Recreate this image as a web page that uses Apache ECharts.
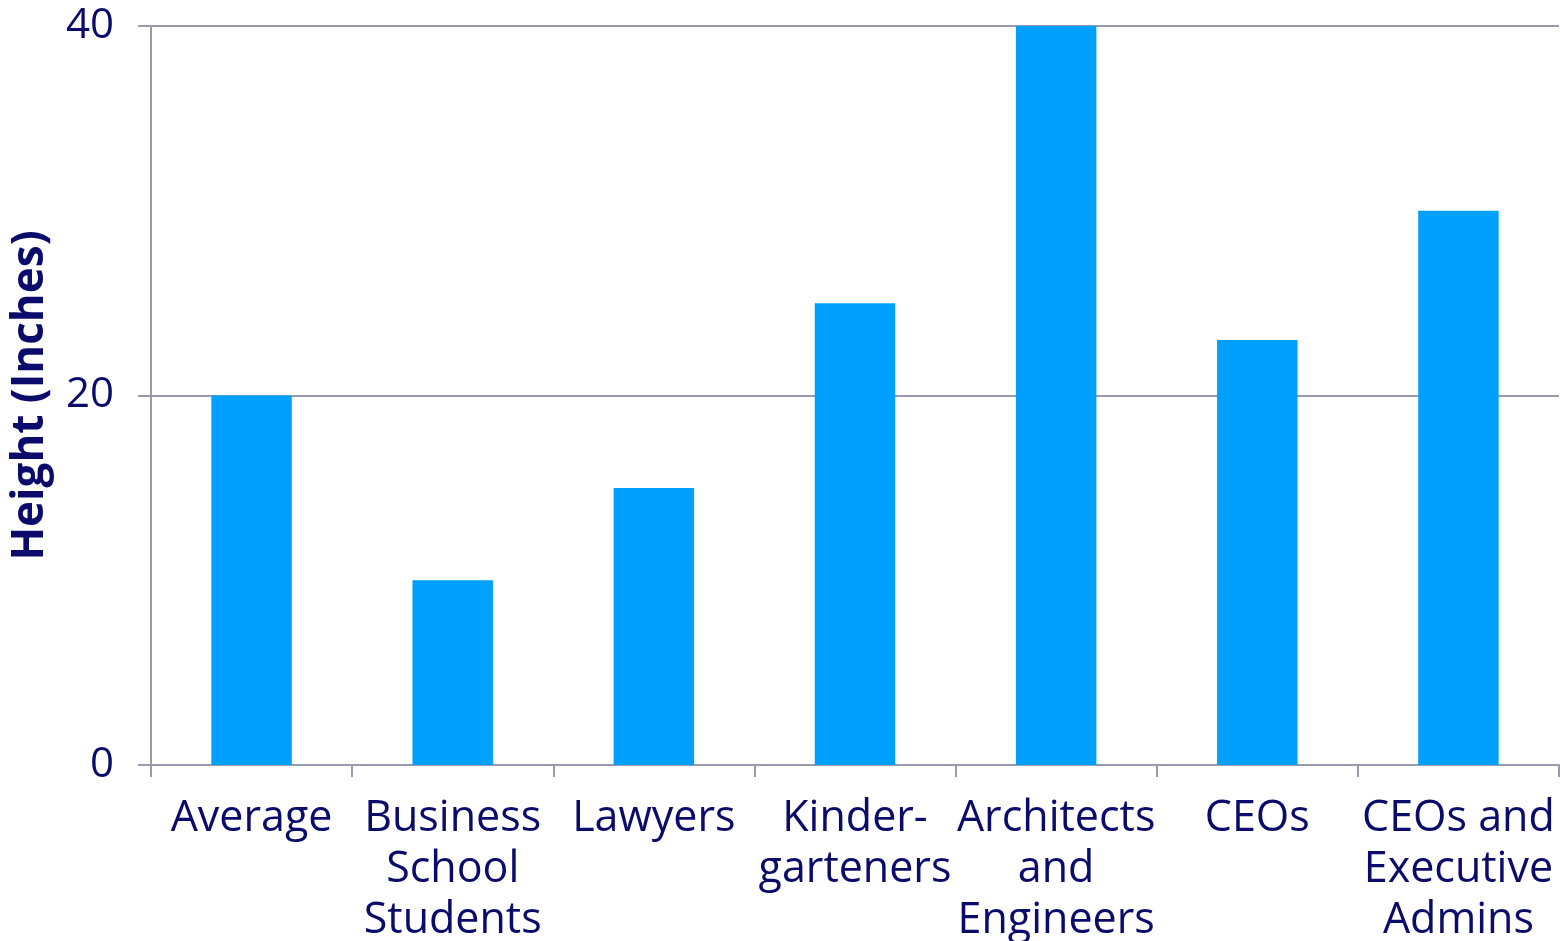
<!DOCTYPE html>
<html>
<head>
<meta charset="utf-8">
<script src="https://cdn.jsdelivr.net/npm/echarts@6/dist/echarts.min.js"></script>
<style>
html,body{margin:0;padding:0;background:#fff;}
#chart{width:1560px;height:941px;}
</style>
</head>
<body>
<div id="chart"></div>
<script>
const categories = ["Average", "Business\nSchool\nStudents", "Lawyers", "Kinder-\ngarteners", "Architects\nand\nEngineers", "CEOs", "CEOs and\nExecutive\nAdmins"];
const heights = [20, 10, 15, 25, 40, 23, 30];
const yTicks = [0, 20, 40];

const textColor = '#0b0b6b';
const axisColor = '#9a9aae';
const font = 'Open Sans';

const chart = echarts.init(document.getElementById('chart'), null, {renderer: 'canvas'});
chart.setOption({
  animation: false,
  backgroundColor: '#ffffff',
  grid: {left: 151, right: 1, top: 26, bottom: 176, containLabel: false, outerBoundsMode: 'none'},
  xAxis: {
    type: 'category',
    data: categories,
    axisLine: {show: true, lineStyle: {color: axisColor, width: 2}},
    axisTick: {show: true, length: 12, lineStyle: {color: axisColor, width: 2}, alignWithLabel: false},
    axisLabel: {color: textColor, fontFamily: font, fontSize: 43, lineHeight: 51, margin: 28, interval: 0}
  },
  yAxis: {
    type: 'value',
    min: yTicks[0], max: yTicks[yTicks.length - 1], interval: 20,
    name: 'Height (Inches)',
    nameLocation: 'middle',
    nameGap: 99,
    nameRotate: 90,
    nameTextStyle: {color: textColor, fontFamily: font, fontSize: 44, fontWeight: 'bold'},
    axisLine: {show: true, lineStyle: {color: axisColor, width: 2}},
    axisTick: {show: true, length: 13, inside: false, lineStyle: {color: axisColor, width: 2}},
    splitLine: {show: true, lineStyle: {color: axisColor, width: 2}},
    axisLabel: {color: textColor, fontFamily: font, fontSize: 42, margin: 37}
  },
  series: [{
    type: 'bar',
    data: heights,
    barWidth: '40%',
    itemStyle: {color: '#00a0ff'}
  }]
});
</script>
</body>
</html>
